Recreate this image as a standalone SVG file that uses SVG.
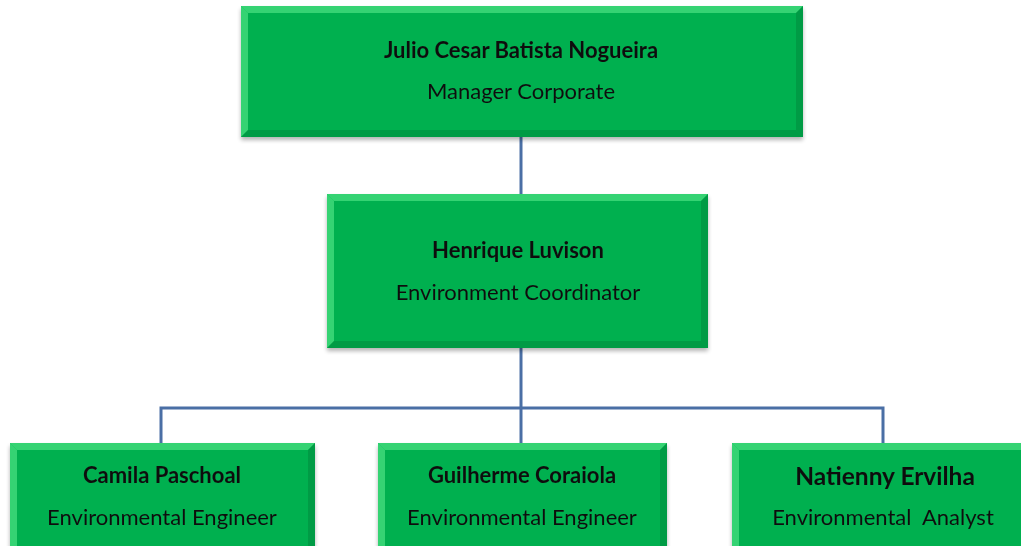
<svg xmlns="http://www.w3.org/2000/svg" width="1021" height="546" viewBox="0 0 1021 546">
<defs>
<style>
.box{fill:#00b050;}
.hl{fill:#5ef08f;opacity:0.55;}
.dk{fill:#0a8a3a;opacity:0.55;}
.name{font-family:Lato,"Liberation Sans",sans-serif;font-weight:bold;font-size:22px;fill:#111;text-anchor:middle;}
.role{font-family:Lato,"Liberation Sans",sans-serif;font-size:22px;fill:#111;text-anchor:middle;}
.conn{stroke:#4a6fa5;stroke-width:3;fill:none;}
</style>
<filter id="sh" x="-5%" y="-5%" width="110%" height="120%">
<feGaussianBlur in="SourceAlpha" stdDeviation="2"/>
<feOffset dx="0" dy="3"/>
<feComponentTransfer><feFuncA type="linear" slope="0.3"/></feComponentTransfer>
<feMerge><feMergeNode/><feMergeNode in="SourceGraphic"/></feMerge>
</filter>
</defs>
<rect width="1021" height="546" fill="#fff"/>
<g id="connectors">
<line class="conn" x1="521" y1="137" x2="521" y2="195"/>
<line class="conn" x1="521" y1="348" x2="521" y2="443"/>
<polyline class="conn" points="161,443 161,408 883,408 883,443"/>
</g>
<g id="node-julio" filter="url(#sh)">
<rect class="box" x="241" y="6" width="562" height="131"/>
<polygon class="hl" points="241,6 248,13 248,130 241,137"/>
<polygon class="hl" points="241,6 803,6 796,13 248,13"/>
<polygon class="dk" points="803,6 803,137 796,130 796,13"/>
<polygon class="dk" points="241,137 803,137 796,130 248,130"/>
<text class="name" x="521" y="58">Julio Cesar Batista Nogueira</text>
<text class="role" x="521" y="99">Manager Corporate</text>
</g>
<g id="node-henrique" filter="url(#sh)">
<rect class="box" x="327" y="194" width="381" height="154"/>
<polygon class="hl" points="327,194 334,201 334,341 327,348"/>
<polygon class="hl" points="327,194 708,194 701,201 334,201"/>
<polygon class="dk" points="708,194 708,348 701,341 701,201"/>
<polygon class="dk" points="327,348 708,348 701,341 334,341"/>
<text class="name" x="518" y="258">Henrique Luvison</text>
<text class="role" x="518" y="300">Environment Coordinator</text>
</g>
<g id="node-camila" filter="url(#sh)">
<rect class="box" x="10" y="443" width="305" height="110"/>
<polygon class="hl" points="10,443 17,450 17,553 10,553"/>
<polygon class="hl" points="10,443 315,443 308,450 17,450"/>
<polygon class="dk" points="315,443 315,553 308,553 308,450"/>
<text class="name" x="162" y="483">Camila Paschoal</text>
<text class="role" x="162" y="525">Environmental Engineer</text>
</g>
<g id="node-guilherme" filter="url(#sh)">
<rect class="box" x="378" y="443" width="289" height="110"/>
<polygon class="hl" points="378,443 385,450 385,553 378,553"/>
<polygon class="hl" points="378,443 667,443 660,450 385,450"/>
<polygon class="dk" points="667,443 667,553 660,553 660,450"/>
<text class="name" x="522" y="483">Guilherme Coraiola</text>
<text class="role" x="522" y="525">Environmental Engineer</text>
</g>
<g id="node-natienny" filter="url(#sh)">
<rect class="box" x="732" y="443" width="300" height="110"/>
<polygon class="hl" points="732,443 739,450 739,553 732,553"/>
<polygon class="hl" points="732,443 1032,443 1025,450 739,450"/>
<text class="name" x="885" y="485" style="font-size:24.5px">Natienny Ervilha</text>
<text class="role" x="883" y="525" xml:space="preserve">Environmental  Analyst</text>
</g>
</svg>
